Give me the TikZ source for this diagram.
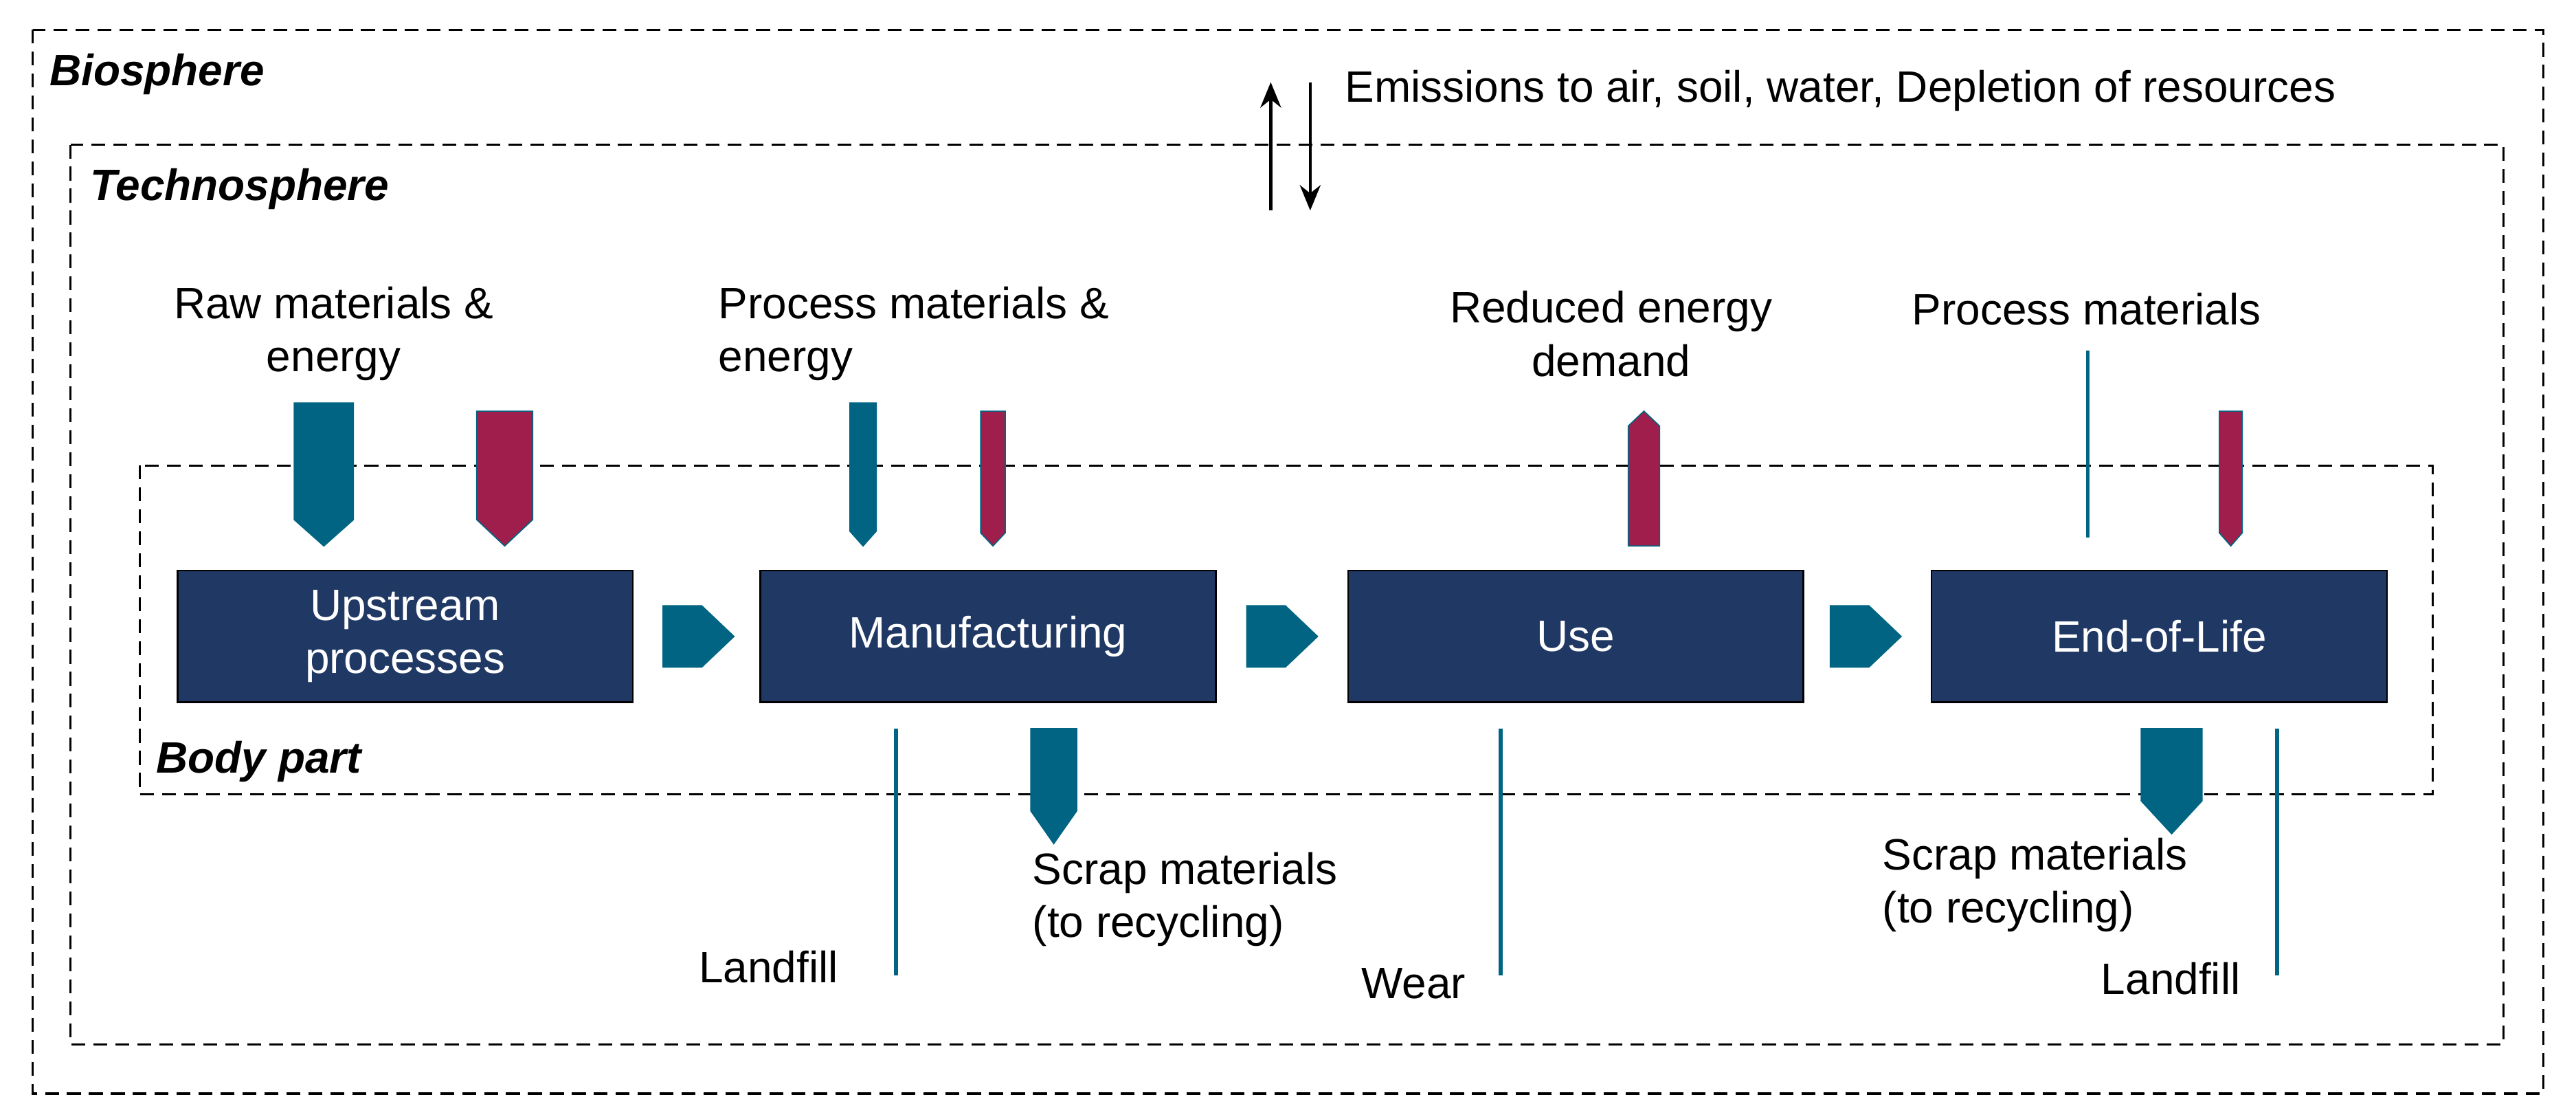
\documentclass[tikz,border=0pt]{standalone}
\usepackage{fontspec}
\setmainfont{Liberation Sans}
\usetikzlibrary{arrows.meta}
\definecolor{boxblue}{HTML}{203864}
\definecolor{petrol}{HTML}{006482}
\definecolor{berry}{HTML}{A01E4B}
\tikzset{
  sphere/.style={draw=black, dashed, line width=1.8pt, dash pattern=on 12pt off 7pt},
  phase/.style={draw=black, line width=1.5pt, fill=boxblue, text=white, minimum width=13.85cm, minimum height=4cm, align=center, inner sep=0pt},
  label/.style={align=center, inner sep=0pt},
  title/.style={font=\fontsize{38}{46}\selectfont\bfseries\itshape, inner sep=0pt, anchor=west},
  flowline/.style={draw=petrol, line width=3.5pt},
  emis/.style={-{Stealth[length=22pt,width=18pt]}, line width=2.5pt}
}
% down-pointing flow arrow: x, top, bottom, half width, tip, colour
\newcommand{\flowdown}[6]{\fill[#6, draw=petrol, line width=1pt] (#1-#4,#2) -- (#1+#4,#2) -- (#1+#4,#3-#5) -- (#1,#3) -- (#1-#4,#3-#5) -- cycle;}
\newcommand{\flowup}[6]{\fill[#6, draw=petrol, line width=1pt] (#1-#4,#3) -- (#1+#4,#3) -- (#1+#4,#2+#5) -- (#1,#2) -- (#1-#4,#2+#5) -- cycle;}
\newcommand{\chevron}[1]{\fill[petrol] (#1-22,368) -- (#1+2,368) -- (#1+22,387) -- (#1+2,406) -- (#1-22,406) -- cycle;}
\begin{document}
\begin{tikzpicture}[x=0.05cm, y=-0.05cm, font=\fontsize{38}{46}\selectfont]
\useasboundingbox (0,0) rectangle (1567,679);

% spheres
\draw[sphere] (20,18) rectangle (1547,665);
\draw[sphere] (43,88) rectangle (1523,635);
\draw[sphere] (85,283) rectangle (1480,483);
\node[title] (bio) at (30,45) {Biosphere};
\node[title] (techno) at (55,115) {Technosphere};
\node[title] (body) at (95,463) {Body part};

% life cycle phases
\node[phase] (up) at (246.5,387) {Upstream\\processes};
\node[phase] (manu) at (601,387) {Manufacturing};
\node[phase] (use) at (958.5,387) {Use};
\node[phase] (eol) at (1313.5,387) {End-of-Life};
\chevron{425}
\chevron{780}
\chevron{1135}

% inputs and outputs
\flowdown{197}{245}{332}{18}{16}{petrol}
\flowdown{307}{250}{332}{17}{16}{berry}
\flowdown{525}{245}{332}{8}{9}{petrol}
\flowdown{604}{250}{332}{7.5}{8}{berry}
\flowup{1000}{250}{332}{9.5}{9}{berry}
\flowdown{1357}{250}{332}{7}{8}{berry}
\flowdown{641}{443}{513}{14}{20}{petrol}
\flowdown{1321}{443}{507}{18.5}{20}{petrol}
\coordinate (eolin1) at (1270,213);
\coordinate (eolin2) at (1270,327);
\coordinate (manuout1) at (545,443);
\coordinate (manuout2) at (545,593);
\coordinate (useout1) at (913,443);
\coordinate (useout2) at (913,593);
\coordinate (eolout1) at (1385,443);
\coordinate (eolout2) at (1385,593);
\draw[flowline] (eolin1) -- (eolin2);
\draw[flowline] (manuout1) -- (manuout2);
\draw[flowline] (useout1) -- (useout2);
\draw[flowline] (eolout1) -- (eolout2);

% emissions
\coordinate (emup1) at (773,128);
\coordinate (emup2) at (773,50);
\coordinate (emdn1) at (797,50);
\coordinate (emdn2) at (797,128);
\draw[emis] (emup1) -- (emup2);
\draw[emis] (emdn1) -- (emdn2);
\node[label, anchor=west] (emtext) at (818,55) {Emissions to air, soil, water, Depletion of resources};

% labels
\node[label] (raw) at (203,203) {Raw materials \&\\energy};
\node[label, align=left, anchor=west] (procmat) at (437,203) {Process materials \&\\energy};
\node[label] (reduced) at (980,203) {Reduced energy\\demand};
\node[label, anchor=west] (procmat2) at (1163,188) {Process materials};
\node[label, align=left, anchor=west] (scrap1) at (628,547) {Scrap materials\\(to recycling)};
\node[label, align=left, anchor=west] (scrap2) at (1145,538) {Scrap materials\\(to recycling)};
\node[label, anchor=west] (land1) at (425,588) {Landfill};
\node[label, anchor=west] (wear) at (828,598) {Wear};
\node[label, anchor=west] (land2) at (1278,595) {Landfill};
\end{tikzpicture}
\end{document}
